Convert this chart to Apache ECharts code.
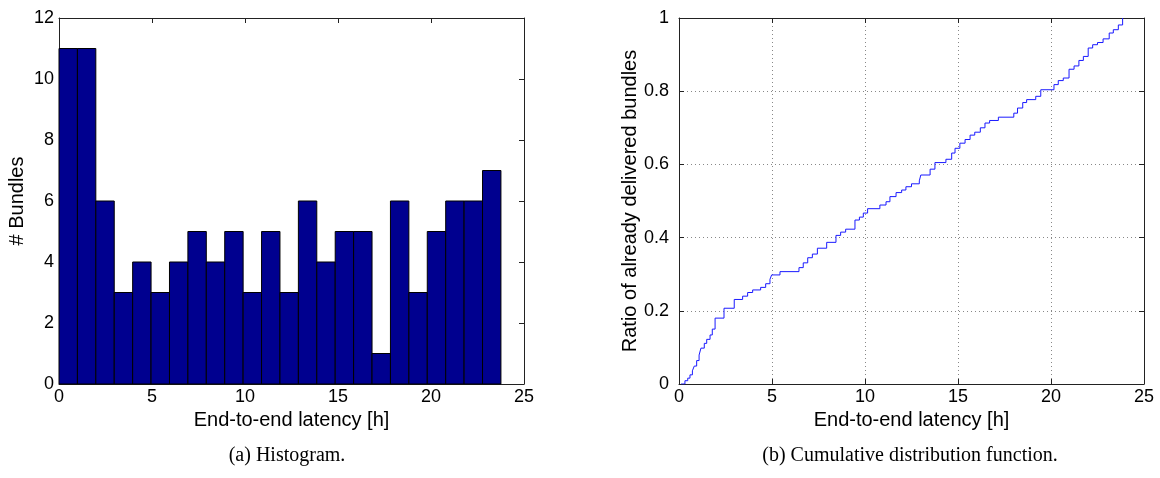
<!DOCTYPE html>
<html>
<head>
<meta charset="utf-8">
<script src="https://cdn.jsdelivr.net/npm/echarts@6/dist/echarts.min.js"></script>
<style>
  html, body { margin: 0; padding: 0; background: #fff; }
  #main { width: 1160px; height: 478px; }
</style>
</head>
<body>
<div id="main"></div>
<script>
// histogram: bundles per hour bin
const binCounts = [11, 11, 6, 3, 4, 3, 4, 5, 4, 5, 3, 5, 3, 6, 4, 5, 5, 1, 6, 3, 5, 6, 6, 7];
const binWidth = 0.99;

// cdf step corners (latency [h], ratio)
const cdfX = [0.11, 0.32, 0.47, 0.59, 0.72, 0.82, 0.95, 1.08, 1.18, 1.36, 1.49, 1.67, 1.79, 1.94,
  2.42, 2.97, 3.42, 3.69, 3.96, 4.39, 4.66, 4.89, 4.98, 5.43, 6.45, 6.68, 6.92, 7.17, 7.44,
  7.94, 8.44, 8.69, 8.96, 9.46, 9.7, 9.91, 10.14, 10.8, 11.13, 11.34, 11.67, 11.97, 12.2,
  12.5, 12.92, 13.0, 13.5, 13.76, 14.35, 14.66, 14.84, 15.1, 15.38, 15.65, 15.9, 16.2,
  16.45, 16.7, 17.17, 18.0, 18.2, 18.48, 18.69, 19.18, 19.45, 20.16, 20.39, 20.66, 20.97,
  21.24, 21.5, 21.74, 22.0, 22.24, 22.5, 22.8, 23.13, 23.35, 23.62, 23.85];
const cdfY = [0, 0.009, 0.016, 0.025, 0.036, 0.049, 0.064, 0.079, 0.098, 0.111, 0.122, 0.134, 0.15, 0.18,
  0.207, 0.231, 0.24, 0.25, 0.257, 0.264, 0.274, 0.286, 0.298, 0.307, 0.318, 0.331, 0.345, 0.355, 0.371,
  0.387, 0.406, 0.415, 0.423, 0.448, 0.456, 0.467, 0.479, 0.489, 0.498, 0.512, 0.523, 0.53, 0.539,
  0.547, 0.555, 0.571, 0.587, 0.605, 0.614, 0.631, 0.644, 0.658, 0.668, 0.68, 0.688, 0.7,
  0.713, 0.72, 0.729, 0.74, 0.754, 0.769, 0.777, 0.786, 0.804, 0.818, 0.829, 0.836, 0.86,
  0.869, 0.884, 0.895, 0.918, 0.927, 0.933, 0.943, 0.959, 0.968, 0.981, 1.0];

const xLabel = "End-to-end latency [h]";
const histYLabel = "# Bundles";
const cdfYLabel = "Ratio of already delivered bundles";
const captions = ["(a) Histogram.", "(b) Cumulative distribution function."];

let chart = echarts.init(document.getElementById("main"));

const axisColor = "#222";
const font = "Liberation Sans, Arial, sans-serif";

function xAxisBase(gridIndex, extra) {
  return Object.assign({
    type: "value", gridIndex: gridIndex, min: 0, max: 25, interval: 5,
    axisLine: { show: true, onZero: false, lineStyle: { color: axisColor, width: 1 } },
    axisTick: { show: true, inside: true, length: 5, lineStyle: { color: axisColor } },
    splitLine: { show: false }
  }, extra);
}
function yAxisBase(gridIndex, max, interval, extra) {
  return Object.assign({
    type: "value", gridIndex: gridIndex, min: 0, max: max, interval: interval,
    axisLine: { show: true, onZero: false, lineStyle: { color: axisColor, width: 1 } },
    axisTick: { show: true, inside: true, length: 5, lineStyle: { color: axisColor } },
    splitLine: { show: false }
  }, extra);
}

const tickLabel = { color: "#000", fontSize: 18, fontFamily: font };
const nameStyle = { color: "#000", fontSize: 20, fontFamily: font };
const gridLine = { show: true, lineStyle: { color: "#888", type: [1, 3], width: 1 } };

let option = {
  animation: false,
  backgroundColor: "#fff",
  grid: [
    { left: 59, top: 18, width: 465, height: 366 },
    { left: 679, top: 18, width: 465, height: 366 }
  ],
  xAxis: [
    xAxisBase(0, {
      position: "bottom", name: xLabel, nameLocation: "middle", nameGap: 26, nameTextStyle: nameStyle,
      axisLabel: Object.assign({ margin: 4 }, tickLabel)
    }),
    xAxisBase(0, { position: "top", axisLabel: { show: false } }),
    xAxisBase(1, {
      position: "bottom", name: xLabel, nameLocation: "middle", nameGap: 26, nameTextStyle: nameStyle,
      axisLabel: Object.assign({ margin: 4 }, tickLabel),
      splitLine: gridLine
    }),
    xAxisBase(1, { position: "top", axisLabel: { show: false } })
  ],
  yAxis: [
    yAxisBase(0, 12, 2, {
      position: "left", name: histYLabel, nameLocation: "middle", nameGap: 32, nameTextStyle: nameStyle,
      axisLabel: Object.assign({ margin: 5 }, tickLabel)
    }),
    yAxisBase(0, 12, 2, { position: "right", axisLabel: { show: false } }),
    yAxisBase(1, 1, 0.2, {
      position: "left", name: cdfYLabel, nameLocation: "middle", nameGap: 38, nameTextStyle: nameStyle,
      axisLabel: Object.assign({ margin: 10 }, tickLabel),
      splitLine: gridLine
    }),
    yAxisBase(1, 1, 0.2, { position: "right", axisLabel: { show: false } })
  ],
  series: [
    {
      type: "custom",
      xAxisIndex: 0,
      yAxisIndex: 0,
      data: binCounts.map(function (c, i) { return [i * binWidth, (i + 1) * binWidth, c]; }),
      renderItem: function (params, api) {
        let p0 = api.coord([api.value(0), 0]);
        let p1 = api.coord([api.value(1), api.value(2)]);
        return {
          type: "rect",
          shape: { x: p0[0], y: p1[1], width: p1[0] - p0[0], height: p0[1] - p1[1] },
          style: { fill: "#00008f", stroke: "#000", lineWidth: 1 }
        };
      }
    },
    {
      type: "line",
      xAxisIndex: 2,
      yAxisIndex: 2,
      step: "end",
      showSymbol: false,
      lineStyle: { color: "#1a1aff", width: 1 },
      data: cdfX.map(function (x, i) { return [x, cdfY[i]]; })
    }
  ],
  graphic: [
    { type: "text", x: 287, y: 456, style: { text: captions[0], font: "20px Liberation Serif, Times New Roman, serif", fill: "#000", textAlign: "center", textVerticalAlign: "middle" } },
    { type: "text", x: 910, y: 456, style: { text: captions[1], font: "20px Liberation Serif, Times New Roman, serif", fill: "#000", textAlign: "center", textVerticalAlign: "middle" } }
  ]
};
chart.setOption(option);
</script>
</body>
</html>
